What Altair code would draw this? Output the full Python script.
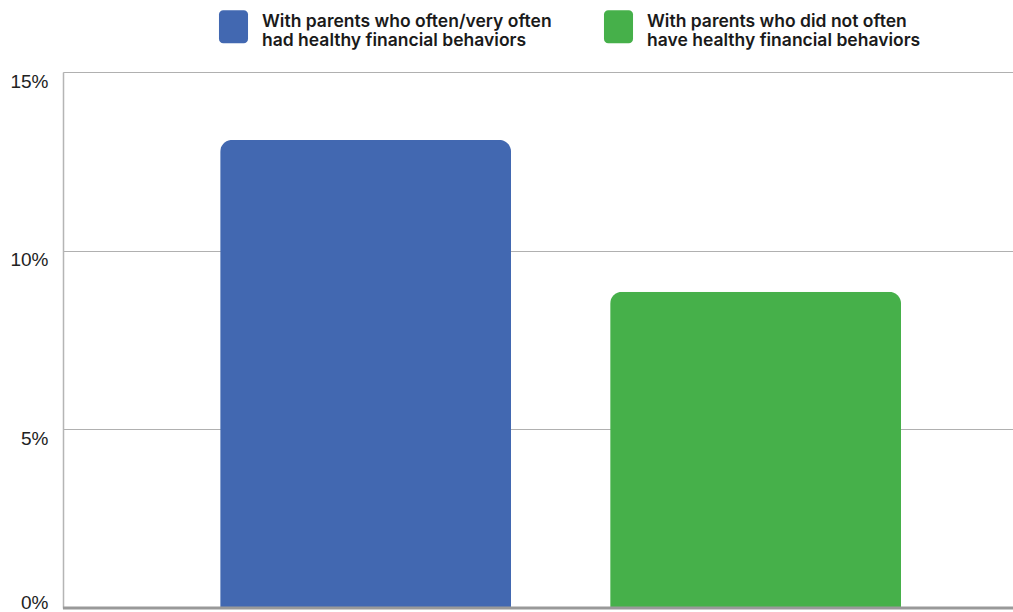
import altair as alt
import pandas as pd

categories = [
    "With parents who often/very often|had healthy financial behaviors",
    "With parents who did not often|have healthy financial behaviors",
]
values = [13.1, 8.85]
colors = ["#4268B1", "#46B04A"]
y_ticks = [0, 5, 10, 15]

df = pd.DataFrame({"group": categories, "value": values})

rounded = ("M-0.62,-1 L0.62,-1 A0.26,0.26 0 0 1 0.88,-0.74 L0.88,0.74 "
           "A0.26,0.26 0 0 1 0.62,1 L-0.62,1 A0.26,0.26 0 0 1 -0.88,0.74 "
           "L-0.88,-0.74 A0.26,0.26 0 0 1 -0.62,-1 Z")

bars = alt.Chart(df).mark_bar(
    cornerRadiusTopLeft=12, cornerRadiusTopRight=12
).encode(
    x=alt.X("group:N", sort=categories, axis=None,
            scale=alt.Scale(paddingInner=0.254, paddingOuter=0.345, align=0.584)),
    y=alt.Y("value:Q", scale=alt.Scale(domain=[0, 15], nice=False),
            axis=alt.Axis(values=y_ticks, title=None, grid=True, ticks=False,
                          domain=True, domainColor="#b5b5b5", domainWidth=1.5,
                          gridColor="#b0b0b0", gridWidth=1,
                          labelExpr="datum.value + '%'",
                          labelFont="Liberation Sans", labelFontSize=19,
                          labelColor="#222222", labelPadding=15,
                          labelBaseline={"condition": {"test": "datum.value == 0", "value": "alphabetic"},
                                         "value": "top"})),
    color=alt.Color("group:N", sort=categories,
                    scale=alt.Scale(domain=categories, range=colors),
                    legend=alt.Legend(
                        title=None, orient="none", legendX=154, legendY=-62,
                        columns=2, columnPadding=50,
                        symbolType=rounded, symbolSize=1089,
                        symbolStrokeWidth=0, symbolOpacity=1,
                        labelExpr="split(datum.label, '|')",
                        labelFont="Inter", labelFontSize=17.5, labelFontWeight=600,
                        labelColor="#1a1a1a", labelLimit=500, labelOffset=12,
                        labelBaseline="alphabetic")),
)

base_rule = alt.Chart(pd.DataFrame({"v": [0]})).mark_rule(
    color="#999999", strokeWidth=3
).encode(y="v:Q")

chart = alt.layer(bars, base_rule).properties(
    width=950, height=536,
    autosize=alt.AutoSizeParams(type="none"),
    padding={"left": 63, "top": 72, "right": 0, "bottom": 4},
).configure_view(stroke=None).configure(background="white")

chart.save("out.html", embed_options={"renderer": "svg", "actions": False})
